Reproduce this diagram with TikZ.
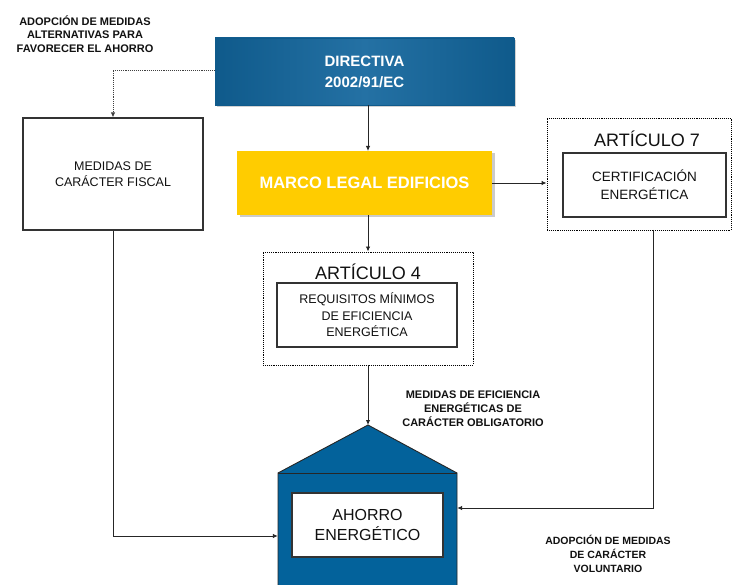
\documentclass[tikz,border=0pt]{standalone}
\usepackage{fontspec}
\setmainfont{Liberation Sans}
\usetikzlibrary{arrows.meta,shadows}
\definecolor{dirblue}{HTML}{2471A4}
\definecolor{dirblueD}{HTML}{0F5A8B}
\definecolor{housblue}{HTML}{03629B}
\definecolor{marcoY}{HTML}{FFCC00}
\definecolor{txt}{HTML}{111111}
\begin{document}
\begin{tikzpicture}[x=1pt,y=-1pt,
  box/.style={draw=black!80,line width=1.1pt,fill=white,align=center,text=txt,inner sep=0pt},
  dotbox/.style={draw=black,densely dotted,line width=0.9pt,inner sep=0pt},
  caption/.style={align=center,font=\fontsize{11}{13.8}\selectfont\bfseries,text=txt},
  conn/.style={draw=black!85,line width=0.9pt},
  arr/.style={conn,-{Latex[length=5pt,width=4.5pt]}},
  darr/.style={draw=black!75,densely dotted,line width=0.9pt,-{Latex[length=5pt,width=4.5pt]}}]
\useasboundingbox (0,0) rectangle (733,585);
\fill[white] (0,0) rectangle (733,585);

% captions
\node[caption] (capA) at (85,34) {ADOPCIÓN DE MEDIDAS\\ALTERNATIVAS PARA\\FAVORECER EL AHORRO};
\node[caption] (capB) at (473,409) {MEDIDAS DE EFICIENCIA\\ENERGÉTICAS DE\\CARÁCTER OBLIGATORIO};
\node[caption,font=\fontsize{10.5}{14}\selectfont\bfseries] (capC) at (608,554) {ADOPCIÓN DE MEDIDAS\\DE CARÁCTER\\VOLUNTARIO};

% directiva
\node[draw=dirblueD,line width=0.6pt,minimum width=299pt,minimum height=67pt,inner sep=0pt,
  left color=dirblueD,right color=dirblueD,middle color=dirblue,
  drop shadow={shadow xshift=2pt,shadow yshift=-2pt,fill=black!35},
  text=white,align=center,font=\fontsize{15}{21}\selectfont\bfseries] (dir) at (364.5,71.5) {DIRECTIVA\\2002/91/EC};

% marco
\node[fill=marcoY,minimum width=255pt,minimum height=64pt,inner sep=0pt,
  drop shadow={shadow xshift=2.5pt,shadow yshift=-2.5pt,fill=black!40},
  text=white,font=\fontsize{16.5}{20}\selectfont\bfseries] (marco) at (364.5,183) {MARCO LEGAL EDIFICIOS};

% fiscal
\node[box,minimum width=180pt,minimum height=112pt,font=\fontsize{12.5}{15.5}\selectfont] (fiscal) at (113,174) {MEDIDAS DE\\CARÁCTER FISCAL};

% articulo 7
\node[dotbox,minimum width=184pt,minimum height=112pt] (art7) at (639,174) {};
\node[text=txt,font=\fontsize{18}{20}\selectfont] (art7t) at (647,139) {ARTÍCULO 7};
\node[box,minimum width=163pt,minimum height=64pt,font=\fontsize{13.5}{18}\selectfont] (cert) at (644.5,185) {CERTIFICACIÓN\\ENERGÉTICA};

% articulo 4
\node[dotbox,minimum width=210pt,minimum height=113pt] (art4) at (368,308.5) {};
\node[text=txt,font=\fontsize{18}{20}\selectfont] (art4t) at (368,272) {ARTÍCULO 4};
\node[box,minimum width=180pt,minimum height=64pt,font=\fontsize{12.5}{16.5}\selectfont] (req) at (367,315) {REQUISITOS MÍNIMOS\\DE EFICIENCIA\\ENERGÉTICA};

% house
\coordinate (apex) at (368,425);
\coordinate (hl) at (278,473);
\coordinate (hr) at (457,473);
\filldraw[fill=housblue,draw=black!85,line width=0.9pt] (apex) -- (hr) -- (457,590) -- (278,590) -- (hl) -- cycle;
\draw[black!85,line width=0.9pt] (hl) -- (hr);
\node[minimum width=179pt,minimum height=117pt,inner sep=0pt] (house) at (367.5,531.5) {};
\node[box,minimum width=151pt,minimum height=64pt,font=\fontsize{16}{20}\selectfont] (ahorro) at (367.5,525) {AHORRO\\ENERGÉTICO};

% connectors
\coordinate (c1) at (368,105);
\coordinate (c2) at (368,151);
\draw[arr] (c1) -- (c2);
\draw[arr] (art4.north |- marco.south) -- (art4.north);
\draw[arr] (art4.south) -- (apex);
\draw[arr] (marco.east) -- (marco.east -| art7.west);
\draw[darr] (dir.west |- 0,70) -| (fiscal.north);
\coordinate (fl) at (113,536);
\draw[arr] (fiscal.south) -- (fl) -- (fl -| house.west);
\coordinate (a7b) at (653,230);
\coordinate (fr) at (653,508);
\draw[arr] (a7b) -- (fr) -- (fr -| house.east);
\end{tikzpicture}
\end{document}
